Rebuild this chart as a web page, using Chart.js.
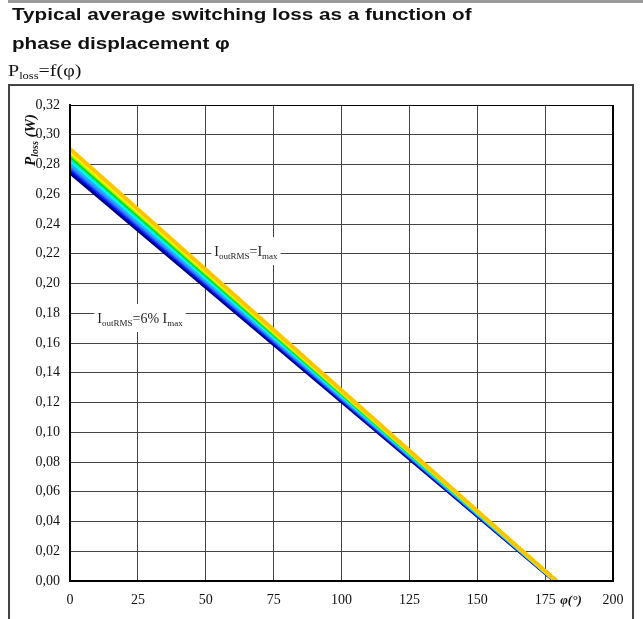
<!DOCTYPE html>
<html><head><meta charset="utf-8">
<script src="https://cdn.jsdelivr.net/npm/chart.js@4.4.1/dist/chart.umd.min.js"></script>
<style>
html,body{margin:0;padding:0;background:#fff;width:643px;height:619px;overflow:hidden;}
#wrap{position:relative;width:643px;height:619px;}
.bar{position:absolute;left:8px;top:0;width:635px;height:3px;background:#9a9a9a;}
.frame{position:absolute;box-sizing:border-box;left:8px;top:84px;width:626px;height:560px;border:2px solid #444;}
canvas{position:absolute;left:0;top:0;}
.t{position:absolute;left:12px;font:bold 16px "Liberation Sans",Arial,sans-serif;line-height:16px;color:#111;white-space:nowrap;transform:scaleX(1.29);transform-origin:0 0;}
.f{position:absolute;left:8px;top:63px;font:16px "Liberation Serif","Times New Roman",serif;line-height:16px;color:#111;white-space:nowrap;transform:scaleX(1.25);transform-origin:0 0;}
.f sub{font-size:10px;vertical-align:-3px;line-height:0;}
</style></head>
<body><div id="wrap">
<div class="bar"></div>
<div class="frame"></div>
<canvas id="c" width="643" height="619"></canvas>
<div class="t" style="top:7px">Typical average switching loss as a function of</div>
<div class="t" style="top:36px">phase displacement φ</div>
<div class="f">P<sub>loss</sub>=f(φ)</div>
</div>
<script>
// Series ordered from the top curve (IoutRMS = Imax) down to the bottom curve (IoutRMS = 6% Imax)
const seriesLabels = ['IoutRMS=Imax','level 11','level 10','level 9','level 8','level 7','level 6','level 5','level 4','level 3','level 2','IoutRMS=6% Imax'];
const lossAtZeroPhase = [0.2905, 0.2890, 0.2875, 0.2861, 0.2847, 0.2833, 0.2819, 0.2805, 0.2791, 0.2777, 0.2762, 0.2747];
const phaseAtZeroLoss = [179, 179, 179, 179, 179, 179, 179, 179, 179, 178.8, 178.8, 178.6];
const seriesColors = ['#FFC400','#FFEE00','#A8F000','#00D800','#00EE99','#00FFFF','#00C8FF','#3399FF','#3366FF','#0033FF','#0000CC','#000080'];
const xTickValues = [0, 25, 50, 75, 100, 125, 150, 175, 200];
const yTickValues = [0, 0.02, 0.04, 0.06, 0.08, 0.10, 0.12, 0.14, 0.16, 0.18, 0.20, 0.22, 0.24, 0.26, 0.28, 0.30, 0.32];
const noteLabels = [
  {parts:[['I',0],['outRMS',1],['=I',0],['max',1]], phi:64.8, loss:0.2218},
  {parts:[['I',0],['outRMS',1],['=6% I',0],['max',1]], phi:25.8, loss:0.1768}
];

const datasets = seriesLabels.map((lab, i) => ({
  label: lab,
  data: [{x: 0, y: lossAtZeroPhase[i]}, {x: phaseAtZeroLoss[i], y: 0}],
  borderColor: seriesColors[i],
  backgroundColor: seriesColors[i],
  borderWidth: 4,
  pointRadius: 0,
  showLine: true,
  fill: false,
  tension: 0
}));

const SERIF = '"Liberation Serif","Times New Roman",serif';

const decor = {
  id: 'decor',
  afterDatasetsDraw(chart) {
    const ctx = chart.ctx, a = chart.chartArea, xs = chart.scales.x, ys = chart.scales.y;
    ctx.save();
    ctx.strokeStyle = '#000';
    ctx.lineWidth = 1;
    ctx.strokeRect(Math.round(a.left) + 0.5, Math.round(a.top) + 0.5, Math.round(a.right - a.left), Math.round(a.bottom - a.top));
    ctx.lineWidth = 2;
    ctx.beginPath();
    ctx.moveTo(a.left, Math.round(a.bottom)); ctx.lineTo(a.right + 1, Math.round(a.bottom));
    ctx.moveTo(Math.round(a.left), a.top); ctx.lineTo(Math.round(a.left), a.bottom);
    ctx.moveTo(Math.round(a.right), a.top); ctx.lineTo(Math.round(a.right), a.bottom);
    ctx.stroke();
    noteLabels.forEach(n => {
      const cx = xs.getPixelForValue(n.phi), cy = ys.getPixelForValue(n.loss);
      let w = 0;
      n.parts.forEach(p => { ctx.font = (p[1] ? '9px ' : '14px ') + SERIF; w += ctx.measureText(p[0]).width; });
      ctx.fillStyle = '#fff';
      ctx.fillRect(cx - w / 2 - 3, cy - 14, w + 6, 28);
      let x = cx - w / 2;
      ctx.fillStyle = '#222';
      ctx.textBaseline = 'alphabetic';
      ctx.textAlign = 'left';
      n.parts.forEach(p => {
        ctx.font = (p[1] ? '9px ' : '14px ') + SERIF;
        ctx.fillText(p[0], x, cy + 5 + (p[1] ? 3 : 0));
        x += ctx.measureText(p[0]).width;
      });
    });
    ctx.translate(30, 140);
    ctx.rotate(-Math.PI / 2);
    const yParts = [['P', 0], ['loss', 1], [' (W)', 0]];
    let tw = 0;
    yParts.forEach(p => { ctx.font = 'italic bold ' + (p[1] ? '10px ' : '15px ') + SERIF; tw += ctx.measureText(p[0]).width; });
    let tx = -tw / 2;
    ctx.fillStyle = '#111';
    yParts.forEach(p => {
      ctx.font = 'italic bold ' + (p[1] ? '10px ' : '15px ') + SERIF;
      ctx.fillText(p[0], tx, 5 + (p[1] ? 3 : 0));
      tx += ctx.measureText(p[0]).width;
    });
    ctx.restore();
    ctx.save();
    ctx.font = 'italic bold 13px ' + SERIF;
    ctx.fillStyle = '#111';
    ctx.textAlign = 'center';
    ctx.textBaseline = 'middle';
    ctx.fillText('φ(°)', 571, 601);
    ctx.restore();
  }
};

new Chart(document.getElementById('c'), {
  type: 'scatter',
  data: { datasets },
  options: {
    responsive: false,
    animation: false,
    layout: { padding: { top: 105, right: 30, left: 0, bottom: 0 } },
    plugins: { legend: { display: false }, tooltip: { enabled: false } },
    scales: {
      x: {
        type: 'linear', min: 0, max: 200,
        afterBuildTicks: s => { s.ticks = xTickValues.map(v => ({value: v})); },
        afterFit: s => { s.height = 38; },
        ticks: { font: { family: SERIF, size: 14 }, color: '#111', padding: 11, maxRotation: 0, autoSkip: false,
          callback: v => String(v) },
        grid: { color: '#444', lineWidth: 1, drawTicks: false },
        border: { display: true, color: '#000', width: 2 }
      },
      y: {
        type: 'linear', min: 0, max: 0.32,
        afterBuildTicks: s => { s.ticks = yTickValues.map(v => ({value: v})); },
        afterFit: s => { s.width = 70; },
        ticks: { font: { family: SERIF, size: 14 }, color: '#111', padding: 10, autoSkip: false,
          callback: v => Number(v).toFixed(2).replace('.', ',') },
        grid: { color: '#444', lineWidth: 1, drawTicks: false },
        border: { display: true, color: '#000', width: 2 }
      }
    }
  },
  plugins: [decor]
});
</script>
</body></html>
